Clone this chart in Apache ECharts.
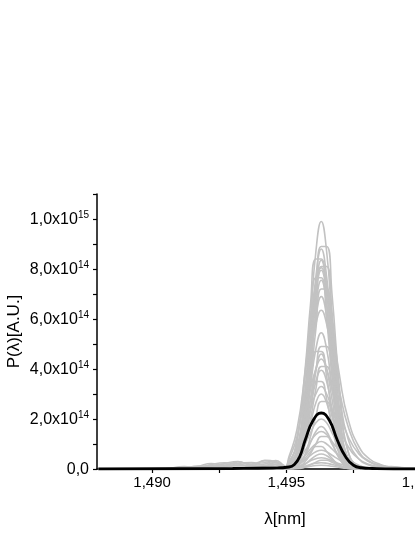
<!DOCTYPE html>
<html>
<head>
<meta charset="utf-8">
<script src="https://cdn.jsdelivr.net/npm/echarts@6/dist/echarts.min.js"></script>
<style>
  html, body { margin: 0; padding: 0; background: #fff; }
  #chart { width: 415px; height: 537px; }
</style>
</head>
<body>
<div id="chart"></div>
<script>
// wavelengths (nm, x axis) - low region, peak region, right tail
const lamLow = [1.4880, 1.4905, 1.4912, 1.4917, 1.4922, 1.4927, 1.4932, 1.4937, 1.4942, 1.4946, 1.4949]
const lamPeak = [1.4951, 1.4954, 1.4957, 1.4959, 1.4961, 1.4963, 1.4965, 1.4967, 1.4970, 1.4973, 1.4977]
const lamTail = [1.4981, 1.4985, 1.4989, 1.4994, 1.5015]

// gray spectra, P in units of 1e14, one row per curve (on lamPeak)
const grayPeak = [
  [0.1, 0.8, 3.2, 6.0, 8.7, 9.9, 8.7, 6.0, 2.2, 0.4, 0],
  [0.1, 0.4, 2.0, 4.3, 7.0, 8.9, 8.9, 7.0, 3.0, 0.7, 0.1],
  [0.1, 0.7, 2.8, 5.4, 7.7, 8.8, 7.7, 5.4, 1.9, 0.4, 0],
  [0.2, 1.2, 4.0, 6.6, 8.4, 8.4, 6.6, 4.0, 1.2, 0.2, 0],
  [0.1, 0.7, 2.7, 5.1, 7.3, 8.35, 7.3, 5.1, 1.8, 0.3, 0],
  [0.1, 0.3, 1.9, 3.9, 6.3, 8.1, 8.1, 6.3, 2.7, 0.7, 0.1],
  [0.5, 1.6, 3.9, 5.9, 7.4, 8.05, 7.4, 5.9, 3.6, 2.0, 0.9],
  [0.1, 0.6, 2.5, 4.8, 7.0, 7.95, 7.0, 4.8, 1.7, 0.3, 0],
  [0.2, 1.1, 3.7, 6.0, 7.65, 7.65, 6.0, 3.7, 1.1, 0.2, 0],
  [0.1, 0.6, 2.4, 4.6, 6.6, 7.55, 6.6, 4.6, 1.7, 0.3, 0],
  [0.1, 0.3, 1.7, 3.5, 5.6, 7.2, 7.2, 5.6, 2.8, 1.2, 0.4],
  [0.1, 0.6, 2.2, 4.2, 6.1, 6.9, 6.1, 4.2, 1.5, 0.3, 0],
  [0.4, 1.3, 3.1, 4.6, 5.8, 6.35, 5.8, 4.6, 3.0, 1.7, 0.7],
  [0.1, 0.4, 1.7, 3.3, 4.8, 5.45, 4.8, 3.3, 1.2, 0.2, 0],
  [0.1, 0.2, 1.1, 2.4, 3.9, 4.9, 4.9, 3.9, 1.6, 0.4, 0.1],
  [0.1, 0.7, 2.3, 3.7, 4.7, 4.7, 3.7, 2.3, 0.7, 0.1, 0],
  [0.05, 0.4, 1.5, 2.8, 4.0, 4.6, 4.0, 2.8, 1.0, 0.2, 0],
  [0.3, 0.9, 2.2, 3.2, 4.0, 4.4, 4.0, 3.2, 2.2, 1.3, 0.6],
  [0.05, 0.2, 1.0, 2.0, 3.2, 4.1, 4.1, 3.2, 1.4, 0.35, 0.05],
  [0.05, 0.3, 1.3, 2.4, 3.5, 3.95, 3.5, 2.4, 0.9, 0.15, 0],
  [0.1, 0.5, 1.7, 2.8, 3.5, 3.5, 2.8, 1.7, 0.5, 0.1, 0],
  [0.2, 0.7, 1.6, 2.4, 3.0, 3.3, 3.0, 2.4, 1.6, 0.9, 0.4],
  [0.03, 0.25, 1.0, 1.8, 2.65, 3.0, 2.65, 1.8, 0.65, 0.12, 0],
  [0.03, 0.1, 0.6, 1.3, 2.1, 2.7, 2.7, 2.1, 0.9, 0.2, 0.03],
  [0.12, 0.4, 1.0, 1.45, 1.85, 2.0, 1.85, 1.45, 0.9, 0.45, 0.15],
  [0.02, 0.14, 0.55, 1.05, 1.5, 1.7, 1.5, 1.05, 0.37, 0.07, 0],
  [0.09, 0.3, 0.74, 1.1, 1.38, 1.5, 1.38, 1.1, 0.7, 0.35, 0.12],
  [0.01, 0.05, 0.3, 0.62, 1.0, 1.3, 1.3, 1.0, 0.43, 0.11, 0.01],
  [0.07, 0.22, 0.54, 0.8, 1.0, 1.1, 1.0, 0.8, 0.5, 0.25, 0.08],
  [0.02, 0.13, 0.43, 0.7, 0.9, 0.9, 0.7, 0.43, 0.13, 0.02, 0],
  [0.05, 0.15, 0.37, 0.55, 0.69, 0.75, 0.69, 0.55, 0.35, 0.18, 0.06],
  [0.01, 0.05, 0.19, 0.37, 0.53, 0.6, 0.53, 0.37, 0.13, 0.02, 0],
  [0.03, 0.09, 0.22, 0.33, 0.41, 0.45, 0.41, 0.33, 0.2, 0.1, 0.03],
  [0, 0.01, 0.08, 0.17, 0.27, 0.35, 0.35, 0.27, 0.11, 0.03, 0],
  [0.02, 0.05, 0.12, 0.18, 0.23, 0.25, 0.23, 0.18, 0.12, 0.06, 0.02],
  [0.01, 0.03, 0.07, 0.11, 0.14, 0.15, 0.14, 0.11, 0.06, 0.02, 0]
]

// small bumps left of the peak: [curve index, values on lamLow]
const grayLow = [
  [23, [0, 0, 0.02, 0.06, 0.1, 0.08, 0.14, 0.1, 0.12, 0.16, 0.06]],
  [25, [0, 0, 0.05, 0.1, 0.22, 0.15, 0.28, 0.2, 0.32, 0.25, 0.12]],
  [27, [0, 0.02, 0.08, 0.05, 0.18, 0.25, 0.2, 0.12, 0.35, 0.3, 0.1]],
  [29, [0, 0, 0.03, 0.12, 0.1, 0.22, 0.3, 0.15, 0.2, 0.34, 0.15]],
  [31, [0, 0.01, 0.1, 0.06, 0.15, 0.1, 0.22, 0.26, 0.15, 0.28, 0.1]],
  [33, [0, 0, 0.02, 0.05, 0.12, 0.2, 0.12, 0.18, 0.25, 0.18, 0.06]],
  [35, [0, 0, 0, 0.04, 0.08, 0.12, 0.16, 0.1, 0.14, 0.2, 0.08]]
]

// right tails: [curve index, values on lamTail]
const grayTail = [
  [6, [0.4, 0.18, 0.07, 0.02, 0]],
  [10, [0.15, 0.05, 0.02, 0, 0]],
  [12, [0.3, 0.14, 0.06, 0.02, 0]],
  [17, [0.28, 0.14, 0.07, 0.03, 0]],
  [21, [0.18, 0.1, 0.05, 0.02, 0]],
  [24, [0.06, 0.12, 0.08, 0.03, 0]],
  [26, [0.05, 0.08, 0.1, 0.04, 0]],
  [28, [0.04, 0.06, 0.08, 0.05, 0]],
  [30, [0.03, 0.07, 0.05, 0.02, 0]],
  [32, [0.02, 0.05, 0.06, 0.03, 0]]
]

// black curve
const lamBlack = [1.4880, 1.4930, 1.4945, 1.4951, 1.4953, 1.4955, 1.4957, 1.4960, 1.4963, 1.4966, 1.4969, 1.4972, 1.4975, 1.4978, 1.4982, 1.4990, 1.5015]
const black = [0, 0.02, 0.04, 0.08, 0.18, 0.5, 1.15, 1.95, 2.24, 1.95, 1.15, 0.5, 0.15, 0.05, 0.02, 0, 0]

const xLabels = [1.490, 1.495, 1.500]
const xTicks = [1.490, 1.4925, 1.495, 1.4975, 1.500]

const FONT = 'Liberation Sans'

function grayData(i) {
  const low = (grayLow.find(d => d[0] === i) || [0, lamLow.map(() => 0)])[1]
  const tail = (grayTail.find(d => d[0] === i) || [0, lamTail.map(() => 0)])[1]
  const xs = lamLow.concat(lamPeak, lamTail)
  const ys = low.concat(grayPeak[i], tail)
  return xs.map((x, k) => [x, ys[k]])
}

const series = grayPeak.map((row, i) => ({
  type: 'line',
  data: grayData(i),
  smooth: 0.5,
  symbol: 'none',
  lineStyle: { color: '#c2c2c2', width: 1.6 },
  z: 2
}))
series.push({
  type: 'line',
  data: lamBlack.map((x, k) => [x, black[k]]),
  smooth: 0.5,
  symbol: 'none',
  lineStyle: { color: '#000', width: 2.8 },
  z: 3
})

const myChart = echarts.init(document.getElementById('chart'))
myChart.setOption({
  animation: false,
  backgroundColor: '#fff',
  grid: { left: 97, top: 194, bottom: 68, right: -58, outerBoundsMode: 'none', containLabel: false },
  xAxis: {
    type: 'value',
    min: 1.48795,
    max: 1.50195,
    name: 'λ[nm]',
    nameLocation: 'middle',
    nameGap: 42,
    nameMoveOverlap: false,
    nameTextStyle: { fontFamily: FONT, fontSize: 17, color: '#000' },
    axisLine: { lineStyle: { color: '#000', width: 1.5 } },
    axisTick: { length: 4, customValues: xTicks, lineStyle: { color: '#000', width: 1.2 } },
    axisLabel: {
      customValues: xLabels,
      margin: 6,
      hideOverlap: false,
      fontFamily: FONT,
      fontSize: 15,
      color: '#000',
      formatter: v => v.toFixed(3).replace('.', ',')
    },
    splitLine: { show: false }
  },
  yAxis: {
    type: 'value',
    min: 0,
    max: 11,
    interval: 1,
    name: 'P(λ)[A.U.]',
    nameLocation: 'middle',
    nameGap: 74,
    nameMoveOverlap: false,
    nameTextStyle: { fontFamily: FONT, fontSize: 17, color: '#000' },
    axisLine: { show: true, lineStyle: { color: '#000', width: 1.5 } },
    axisTick: { show: true, length: 4, lineStyle: { color: '#000', width: 1.2 } },
    axisLabel: {
      margin: 8,
      fontFamily: FONT,
      color: '#000',
      formatter: v => {
        if (v === 0) return '{a|0,0}'
        if (v % 2 !== 0) return ''
        if (v === 10) return '{a|1,0x10}{s|15}'
        return '{a|' + v.toFixed(1).replace('.', ',') + 'x10}{s|14}'
      },
      rich: {
        a: { fontFamily: FONT, fontSize: 16, color: '#000', verticalAlign: 'bottom', lineHeight: 18 },
        s: { fontFamily: FONT, fontSize: 10, color: '#000', verticalAlign: 'bottom', lineHeight: 18, padding: [0, 0, 8, 0] }
      }
    },
    splitLine: { show: false }
  },
  series: series
})
</script>
</body>
</html>
